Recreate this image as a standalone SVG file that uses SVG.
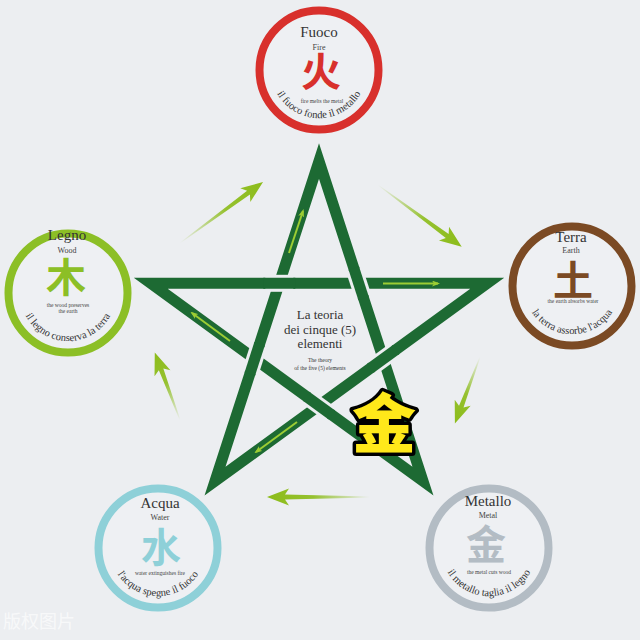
<svg xmlns="http://www.w3.org/2000/svg" width="640" height="640" viewBox="0 0 640 640">
  <defs>
    <linearGradient id="fade" x1="0" y1="0" x2="1" y2="0">
      <stop offset="0" stop-color="#8cbc1a" stop-opacity="0"/>
      <stop offset="0.55" stop-color="#8cbc1a" stop-opacity="0.9"/>
      <stop offset="1" stop-color="#8cbc1a"/>
    </linearGradient>
    <marker id="tip" viewBox="0 0 8 6" refX="6" refY="3" markerWidth="8" markerHeight="6" markerUnits="userSpaceOnUse" orient="auto">
      <path d="M0,0 L8,3 L0,6 L2,3 Z" fill="#9ccd34"/>
    </marker>
    <style>
      .ring { fill: #eef0f3; stroke-width: 8; }
      .title { font-family: "Liberation Serif", "DejaVu Serif", serif; font-size: 15px; fill: #333; text-anchor: middle; }
      .sub { font-family: "Liberation Serif", "DejaVu Serif", serif; font-size: 8px; fill: #444; text-anchor: middle; }
      .tiny { font-family: "Liberation Serif", "DejaVu Serif", serif; font-size: 5.5px; fill: #444; text-anchor: middle; }
      .curve { font-family: "Liberation Serif", "DejaVu Serif", serif; font-size: 10.5px; fill: #333; text-anchor: middle; }
      .han { font-family: "Noto Sans CJK SC", "Noto Sans CJK JP", sans-serif; font-size: 40px; font-weight: 700; text-anchor: middle; }
      .star { fill: none; stroke: #1d6a33; stroke-width: 11; stroke-linejoin: miter; stroke-miterlimit: 10; }
      .gap { fill: none; stroke: #eceef1; stroke-width: 17; stroke-linecap: butt; }
      .over { fill: none; stroke: #1d6a33; stroke-width: 11; stroke-linecap: butt; }
      .inner { fill: none; stroke: #9ccd34; stroke-width: 2; marker-end: url(#tip); }
      .outer { fill: url(#fade); }
      .center { font-family: "Liberation Serif", "DejaVu Serif", serif; fill: #333; text-anchor: middle; }
    </style>
    <path id="arcFuoco" d="M271.7,78.3 A48,48 0 0 0 366.3,78.3"/>
    <path id="arcLegno" d="M20.7,301.3 A48,48 0 0 0 115.3,301.3"/>
    <path id="arcTerra" d="M524.7,294.3 A48,48 0 0 0 619.3,294.3"/>
    <path id="arcAcqua" d="M110.7,556.3 A48,48 0 0 0 205.3,556.3"/>
    <path id="arcMetallo" d="M441.7,556.3 A48,48 0 0 0 536.3,556.3"/>
  </defs>

  <rect width="640" height="640" fill="#eceef1"/>

  <g id="connectors">
    <!-- pentagram -->
    <path class="star" d="M319,161 L423,481.2 L150.7,283.3 L487.3,283.3 L215,481.2 Z"/>
    <path class="gap" d="M265.3,283.3 L293.3,283.3"/>
    <path class="over" d="M263.3,283.3 L295.3,283.3"/>
    <path class="gap" d="M354.4,270 L363,296.6"/>
    <path class="over" d="M353.8,268.1 L363.6,298.5"/>
    <path class="gap" d="M394.6,350.7 L372,367.1"/>
    <path class="over" d="M396.2,349.5 L370.4,368.3"/>
    <path class="gap" d="M330.3,413.8 L307.7,397.4"/>
    <path class="over" d="M331.9,415 L306.1,396.2"/>
    <path class="gap" d="M250.4,372.2 L259,345.6"/>
    <path class="over" d="M249.8,374.1 L259.6,343.7"/>

    <!-- arrows on the star -->
    <path class="inner" d="M289,253 L303,211"/>
    <path class="inner" d="M383,283.5 L438,283.5"/>
    <path class="inner" d="M230,341 L192,313"/>
    <path class="inner" d="M297,422 L256,452"/>

    <!-- outer arrows -->
    <path class="outer" transform="translate(180,243) rotate(-36.3)" d="M0,-0.4 L85,-2.4 L81,-8.5 L103,0 L81,8.5 L85,2.4 L0,0.4 Z"/>
    <path class="outer" transform="translate(378,185) rotate(36.4)" d="M0,-0.4 L86,-2.4 L82,-8.5 L104,0 L82,8.5 L86,2.4 L0,0.4 Z"/>
    <path class="outer" transform="translate(480,357) rotate(110.7)" d="M0,-0.4 L53,-2.4 L49,-8.5 L71,0 L49,8.5 L53,2.4 L0,0.4 Z"/>
    <path class="outer" transform="translate(370,497) rotate(180)" d="M0,-0.4 L85,-2.4 L81,-8.5 L103,0 L81,8.5 L85,2.4 L0,0.4 Z"/>
    <path class="outer" transform="translate(180,420) rotate(-110.5)" d="M0,-0.4 L54,-2.4 L50,-8.5 L72,0 L50,8.5 L54,2.4 L0,0.4 Z"/>
  </g>

  <g id="center">
    <text class="center" x="320" y="319" font-size="13">La teoria</text>
    <text class="center" x="320" y="334" font-size="13">dei cinque (5)</text>
    <text class="center" x="320" y="348" font-size="13">elementi</text>
    <text class="center" x="320" y="362" font-size="5.5">The theory</text>
    <text class="center" x="320" y="370" font-size="5.5">of the five (5) elements</text>
  </g>

  <g id="fuoco">
    <circle class="ring" cx="319" cy="70" r="59.5" stroke="#d8302c"/>
    <text class="title" x="319" y="37">Fuoco</text>
    <text class="sub" x="319" y="49.5">Fire</text>
    <text class="han" x="321" y="86" fill="#d8302c">火</text>
    <text class="tiny" x="322" y="103">fire melts the metal</text>
    <text class="curve"><textPath href="#arcFuoco" startOffset="50%">il fuoco fonde il metallo</textPath></text>
  </g>

  <g id="legno">
    <circle class="ring" cx="68" cy="293" r="59.5" stroke="#8cbf26"/>
    <text class="title" x="67" y="240">Legno</text>
    <text class="sub" x="67" y="253">Wood</text>
    <text class="han" x="66" y="292" fill="#8cbf26">木</text>
    <text class="tiny" x="68" y="306.5">the wood preserves</text>
    <text class="tiny" x="68" y="312.5">the earth</text>
    <text class="curve"><textPath href="#arcLegno" startOffset="50%">il legno conserva la terra</textPath></text>
  </g>

  <g id="terra">
    <circle class="ring" cx="572" cy="286" r="59.5" stroke="#7b4a24"/>
    <text class="title" x="571" y="242">Terra</text>
    <text class="sub" x="571" y="253">Earth</text>
    <text class="han" x="573" y="295" fill="#7b4a24">土</text>
    <text class="tiny" x="573" y="303">the earth absorbs water</text>
    <text class="curve"><textPath href="#arcTerra" startOffset="50%">la terra assorbe l'acqua</textPath></text>
  </g>

  <g id="acqua">
    <circle class="ring" cx="158" cy="548" r="59.5" stroke="#8ed0d8"/>
    <text class="title" x="160" y="508">Acqua</text>
    <text class="sub" x="160" y="520">Water</text>
    <text class="han" x="161" y="562" fill="#8ed0d8">水</text>
    <text class="tiny" x="160" y="575">water extinguishes fire</text>
    <text class="curve"><textPath href="#arcAcqua" startOffset="50%">l'acqua spegne il fuoco</textPath></text>
  </g>

  <g id="metallo">
    <circle class="ring" cx="489" cy="548" r="59.5" stroke="#b3bcc4"/>
    <text class="title" x="488" y="506">Metallo</text>
    <text class="sub" x="488" y="517.5">Metal</text>
    <text class="han" x="486" y="559" fill="#b3bcc4">金</text>
    <text class="tiny" x="489" y="573.5">the metal cuts wood</text>
    <text class="curve"><textPath href="#arcMetallo" startOffset="50%">il metallo taglia il legno</textPath></text>
  </g>

  <g id="gold">
    <text x="384" y="447" font-family="Noto Sans CJK SC, Noto Sans CJK JP, sans-serif" font-size="64" font-weight="900" text-anchor="middle" fill="#ffe81a" stroke="#000" stroke-width="7" stroke-linejoin="round" paint-order="stroke">金</text>
  </g>

  <text x="3" y="628" font-family="Noto Sans CJK SC, sans-serif" font-size="18" fill="#ffffff" fill-opacity="0.65">版权图片</text>
</svg>
